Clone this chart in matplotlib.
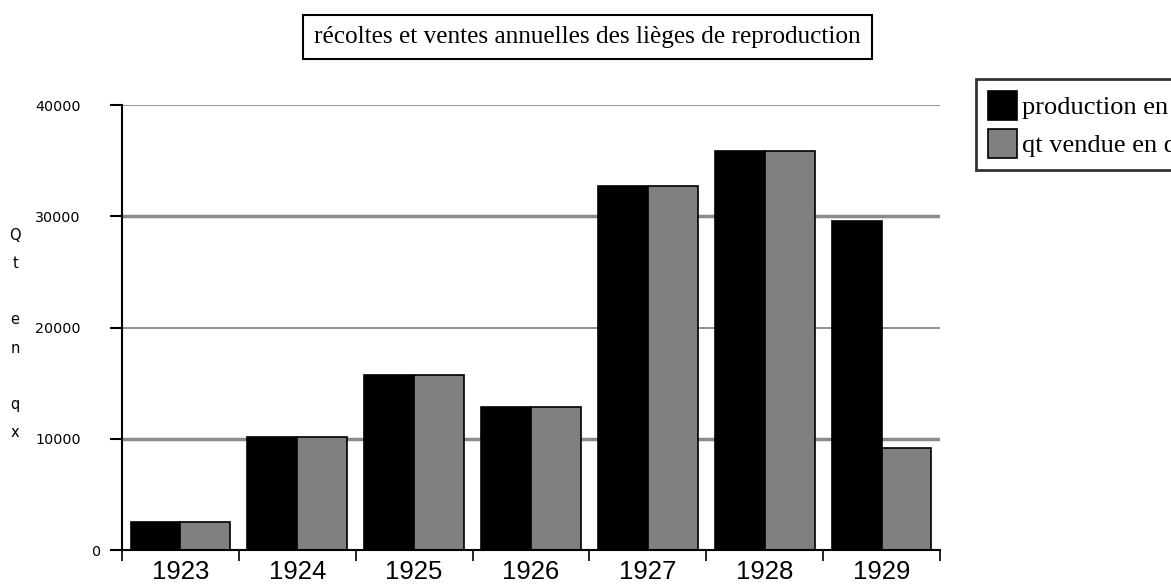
import numpy as np
import matplotlib.pyplot as plt
import matplotlib.transforms as mtransforms
from matplotlib.ticker import FixedLocator

# Données
annees = ['1923', '1924', '1925', '1926', '1927', '1928', '1929']
production = [2500, 10150, 15700, 12850, 32700, 35850, 29550]
vendue = [2500, 10150, 15700, 12850, 32700, 35850, 9150]
graduations = [0, 10000, 20000, 30000, 40000]

fig = plt.figure(figsize=(11.71, 5.86), dpi=100)
ax = fig.add_axes([0.1042, 0.0614, 0.6985, 0.7594])

x = np.arange(len(annees))
largeur = 0.427

# Lignes de grille
for g in graduations[1:]:
    lw = 2.5 if g in (10000, 30000) else 1.3
    ax.axhline(g, color='#8a8a8a', lw=lw, zorder=0)

ax.bar(x - largeur / 2, production, largeur, color='black', edgecolor='black',
       linewidth=1.2, label='production en qx', zorder=2)
ax.bar(x + largeur / 2, vendue, largeur, color='#808080', edgecolor='black',
       linewidth=1.2, label='qt vendue en qx', zorder=2)

ax.set_xlim(-0.5, len(annees) - 0.5)
ax.set_ylim(0, 40000)

for s in ['top', 'right']:
    ax.spines[s].set_visible(False)
ax.spines['left'].set_linewidth(1.5)
ax.spines['bottom'].set_linewidth(1.5)

ax.set_yticks(graduations)
ax.set_yticklabels([str(g) for g in graduations], fontsize=10.3, family='DejaVu Sans')
ax.tick_params(axis='y', direction='out', length=8.6, width=1.5, pad=21)
# le "0" est plus proche de l'axe dans l'original
lab0 = ax.get_yticklabels()[0]
lab0.set_transform(lab0.get_transform() + mtransforms.ScaledTranslation(0.2, 0, fig.dpi_scale_trans))

ax.set_xticks(x)
ax.set_xticklabels(annees, fontsize=18.5, family='Liberation Sans')
ax.tick_params(axis='x', which='major', length=0, pad=7)
ax.xaxis.set_minor_locator(FixedLocator(np.arange(-0.5, len(annees), 1.0)))
ax.tick_params(axis='x', which='minor', direction='out', length=8, width=1.2)

# Étiquette verticale de l'axe y
fig.text(0.013, 0.43, 'Q\nt\n\ne\nn\n\nq\nx', fontsize=10.5, family='DejaVu Sans',
         ha='center', va='center', linespacing=2.1)

# Titre encadré
fig.text(0.5017, 0.937, 'récoltes et ventes annuelles des lièges de reproduction',
         fontsize=18.2, family='Liberation Serif', ha='center', va='center',
         bbox=dict(boxstyle='square,pad=0.45', facecolor='white', edgecolor='black', linewidth=1.5))

leg = ax.legend(loc='upper left', bbox_to_anchor=(0.8335, 0.865), bbox_transform=fig.transFigure,
                prop={'family': 'Liberation Serif', 'size': 19}, frameon=True, fancybox=False,
                handlelength=1.1, handleheight=1.3, handletextpad=0.2, borderpad=0.45,
                labelspacing=0.35, borderaxespad=0)
leg.get_frame().set_edgecolor('black')
leg.get_frame().set_linewidth(2)

fig.savefig('out.png', dpi=100)
